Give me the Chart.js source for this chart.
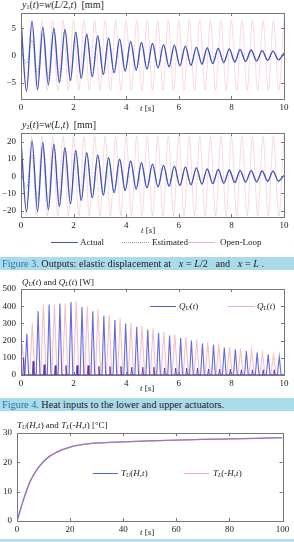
<!DOCTYPE html>
<html>
<head>
<meta charset="utf-8">
<script src="https://cdn.jsdelivr.net/npm/chart.js@4"></script>
<style>
  body { margin: 0; background: #fff; width: 294px; height: 542px; position: relative; overflow: hidden;
         font-family: 'Liberation Serif', serif; color: #222; }
  canvas { position: absolute; left: 0; }
  .lbl { position: absolute; font-size: 9px; line-height: 10px; white-space: nowrap; }
  .lbl sub { font-size: 6px; vertical-align: -1px; }
  .ttl { font-size: 10px; }
  .key { position: absolute; height: 0; }
  .cap { position: absolute; left: 0; width: 294px; height: 13px; background: #aadbea;
         font-size: 10.2px; line-height: 13px; white-space: nowrap; padding-left: 2px; box-sizing: border-box; }
  .cap b { font-weight: normal; color: #1e78b4; }
</style>
</head>
<body>

<div class="lbl ttl" style="left:22px;top:0px"><i>y</i><sub>1</sub>(<i>t</i>)=<i>w</i>(<i>L</i>/2,<i>t</i>)&nbsp; [mm]</div>
<canvas id="c1" width="294" height="112" style="top:0px"></canvas>
<div class="lbl" style="left:140px;top:103px"><i>t</i> [<i>s</i>]</div>

<div class="lbl ttl" style="left:22px;top:120px"><i>y</i><sub>2</sub>(<i>t</i>)=<i>w</i>(<i>L</i>,<i>t</i>)&nbsp; [mm]</div>
<canvas id="c2" width="294" height="112" style="top:120px"></canvas>
<div class="lbl" style="left:141px;top:225px"><i>t</i> [<i>s</i>]</div>

<div class="key" style="left:51px;top:242px;width:27px;border-top:1px solid #4455cc"></div>
<div class="lbl" style="left:80px;top:237px">Actual</div>
<div class="key" style="left:122px;top:242px;width:27px;border-top:1px dotted #7db38c"></div>
<div class="lbl" style="left:152px;top:237px">Estimated</div>
<div class="key" style="left:187px;top:242px;width:28px;border-top:1px solid #f3b0ba"></div>
<div class="lbl" style="left:220px;top:237px">Open-Loop</div>

<div class="cap" style="top:257px"><b>Figure 3.</b> Outputs: elastic displacement at &nbsp; <i>x</i> = <i>L</i>/2 &nbsp; and &nbsp; <i>x</i> = <i>L</i> .</div>

<div class="lbl" style="left:22px;top:277px"><i>Q<sub>U</sub></i>(<i>t</i>) and <i>Q<sub>L</sub></i>(<i>t</i>) [W]</div>
<canvas id="c3" width="294" height="112" style="top:276px"></canvas>
<div class="lbl" style="left:140px;top:383px"><i>t</i> [<i>s</i>]</div>
<div class="key" style="left:150px;top:306px;width:26px;border-top:1px solid #5563dd"></div>
<div class="lbl" style="left:179px;top:301px"><i>Q<sub>U</sub></i>(<i>t</i>)</div>
<div class="key" style="left:228px;top:306px;width:27px;border-top:1px solid #f3b0ba"></div>
<div class="lbl" style="left:257px;top:301px"><i>Q<sub>L</sub></i>(<i>t</i>)</div>

<div class="cap" style="top:398px"><b>Figure 4.</b> Heat inputs to the lower and upper actuators.</div>

<div class="lbl" style="left:17px;top:420px"><i>T<sub>U</sub></i>(<i>H</i>,<i>t</i>) and <i>T<sub>L</sub></i>(-<i>H</i>,<i>t</i>) [°C]</div>
<canvas id="c4" width="294" height="114" style="top:420px"></canvas>
<div class="lbl" style="left:140px;top:527px"><i>t</i> [<i>s</i>]</div>
<div class="key" style="left:93px;top:473px;width:25px;border-top:1px solid #5563dd"></div>
<div class="lbl" style="left:121px;top:468px"><i>T<sub>U</sub></i>(<i>H</i>,<i>t</i>)</div>
<div class="key" style="left:184px;top:473px;width:25px;border-top:1px solid #f3b0ba"></div>
<div class="lbl" style="left:213px;top:468px"><i>T<sub>L</sub></i>(-<i>H</i>,<i>t</i>)</div>

<div style="position:absolute;left:0;top:539px;width:294px;height:3px;background:#b6e0ee"></div>

<script>
// --- data ---
// times of the peaks / troughs of the controlled response [s]
const tPeaks = [0, 0.21, 0.42, 0.63, 0.83, 1.04, 1.25, 1.46, 1.67, 1.88, 2.08, 2.29, 2.5, 2.71, 2.92, 3.13,
  3.33, 3.54, 3.75, 3.96, 4.17, 4.38, 4.58, 4.79, 5, 5.21, 5.42, 5.63, 5.83, 6.04, 6.25, 6.46, 6.67, 6.88,
  7.08, 7.29, 7.5, 7.71, 7.92, 8.13, 8.33, 8.54, 8.75, 8.96, 9.17, 9.38, 9.58, 9.79, 10];
// times of the peaks / troughs of the open-loop response [s]
const tOpen = [0, 0.2, 0.4, 0.6, 0.8, 1, 1.2, 1.4, 1.6, 1.8, 2, 2.2, 2.4, 2.6, 2.8, 3, 3.2, 3.4, 3.6, 3.8,
  4, 4.2, 4.4, 4.6, 4.8, 5, 5.2, 5.4, 5.6, 5.8, 6, 6.2, 6.4, 6.6, 6.8, 7, 7.2, 7.4, 7.6, 7.8, 8, 8.2, 8.4,
  8.6, 8.8, 9, 9.2, 9.4, 9.6, 9.8, 10];

// y1 = w(L/2,t) [mm]
const y1Actual = [6.5, -6.6, 6.3, -6.3, 5.2, -5.4, 5.0, -5.0, 4.8, -4.6, 4.3, -4.2, 3.9, -3.9, 3.6, -3.5,
  3.2, -3.2, 3.0, -2.9, 2.6, -2.7, 2.4, -2.5, 2.2, -2.3, 2.0, -2.1, 1.9, -1.9, 1.7, -1.8, 1.5, -1.6, 1.4,
  -1.5, 1.3, -1.3, 1.2, -1.2, 1.1, -1.1, 1.0, -1.0, 0.9, -0.9, 0.8, -0.8, 0.4];
const y1Est = [0.8, -1.5, 2.8, -3.5, 4.0, -4.2, 4.6, -4.9, 4.8, -4.6, 4.3, -4.2, 3.9, -3.9, 3.6, -3.5,
  3.2, -3.2, 3.0, -2.9, 2.6, -2.7, 2.4, -2.5, 2.2, -2.3, 2.0, -2.1, 1.9, -1.9, 1.7, -1.8, 1.5, -1.6, 1.4,
  -1.5, 1.3, -1.3, 1.2, -1.2, 1.1, -1.1, 1.0, -1.0, 0.9, -0.9, 0.8, -0.8, 0.4];
const y1Open = [6.5, -6.5, 6.4, -6.4, 6.4, -6.4, 6.4, -6.4, 6.4, -6.4, 6.4, -6.4, 6.4, -6.4, 6.4, -6.4,
  6.4, -6.4, 6.4, -6.4, 6.4, -6.4, 6.4, -6.4, 6.4, -6.4, 6.4, -6.4, 6.4, -6.4, 6.4, -6.4, 6.4, -6.4, 6.4,
  -6.4, 6.4, -6.4, 6.4, -6.4, 6.4, -6.4, 6.4, -6.4, 6.4, -6.4, 6.4, -6.4, 6.4, -6.4, 6.4];

// y2 = w(L,t) [mm]
const y2Actual = [20.5, -20.5, 20.5, -20.5, 19.5, -19.5, 18.5, -17.5, 16.5, -16, 15, -14, 13.6, -12.5,
  12.2, -11, 10.8, -9.5, 9.8, -8.3, 8.8, -7.5, 7.8, -6.8, 7.0, -6.2, 6.3, -5.8, 5.8, -5.4, 5.3, -5.0, 4.8,
  -4.6, 4.3, -4.3, 4.0, -4.0, 3.6, -3.7, 3.4, -3.4, 3.2, -3.2, 3.0, -3.0, 2.9, -2.8, 0.5];
const y2Est = [3, -7, 12, -14, 17, -18, 18, -17.5, 16.5, -16, 15, -14, 13.6, -12.5,
  12.2, -11, 10.8, -9.5, 9.8, -8.3, 8.8, -7.5, 7.8, -6.8, 7.0, -6.2, 6.3, -5.8, 5.8, -5.4, 5.3, -5.0, 4.8,
  -4.6, 4.3, -4.3, 4.0, -4.0, 3.6, -3.7, 3.4, -3.4, 3.2, -3.2, 3.0, -3.0, 2.9, -2.8, 0.5];
const y2Open = [21, -22.5, 23, -23, 23, -23, 23, -23, 23, -23, 23, -23, 23, -23, 23, -23, 23, -23, 23,
  -23, 23, -23, 23, -23, 23, -23, 23, -23, 23, -23, 23, -23, 23, -23, 23, -23, 23, -23, 23, -23, 23, -23,
  23, -23, 23, -23, 23, -23, 23, -23, 23];

// heat input pulses [s] and their peaks [W]
const qUTimes = [0.22, 0.65, 1.07, 1.48, 1.9, 2.32, 2.73, 3.15, 3.57, 3.98, 4.4, 4.82, 5.23, 5.65, 6.07,
  6.48, 6.9, 7.32, 7.73, 8.15, 8.57, 8.98, 9.4, 9.82];
const qUPeaks = [240, 370, 410, 415, 425, 395, 370, 345, 320, 300, 280, 265, 245, 230, 215, 200, 185, 175,
  160, 150, 140, 130, 120, 105];
const qLTimes = [0.05, 0.43, 0.85, 1.27, 1.68, 2.1, 2.52, 2.93, 3.35, 3.77, 4.18, 4.6, 5.02, 5.43, 5.85,
  6.27, 6.68, 7.1, 7.52, 7.93, 8.35, 8.77, 9.18, 9.6];
const qLPeaks = [180, 300, 410, 410, 415, 430, 400, 380, 350, 330, 305, 285, 270, 250, 235, 220, 205, 190,
  180, 165, 155, 145, 130, 120];
// short dark spikes of Q_U sitting under the Q_L pulses
const qSmallTimes = [0.1, 0.46, 0.88, 1.3, 1.71, 2.13, 2.55, 2.96, 3.38, 3.8, 4.21, 4.63, 5.05, 5.46, 5.88,
  6.3, 6.71, 7.13, 7.55, 7.96, 8.38, 8.8, 9.21, 9.63];
const qSmallPeaks = [100, 80, 60, 55, 55, 55, 55, 50, 50, 50, 45, 45, 45, 40, 40, 40, 40, 35, 35, 35, 30,
  30, 30, 30];

// tip temperatures [°C]
const tTemp = [0, 1, 2, 3, 5, 7.5, 10, 12.5, 15, 20, 25, 30, 40, 50, 60, 70, 80, 90, 100];
const tempU = [0, 3, 6, 8.8, 13.6, 17.5, 20.3, 22.2, 23.5, 25.2, 26.1, 26.6, 27.0, 27.3, 27.55, 27.8, 28.0, 28.2, 28.4];
const tempL = [0, 3, 6, 8.8, 13.6, 17.5, 20.3, 22.2, 23.5, 25.2, 26.1, 26.6, 27.0, 27.3, 27.55, 27.8, 28.0, 28.2, 28.4];

// --- helpers ---
const pts = (xs, ys) => xs.map((x, i) => ({ x, y: ys[i] }));
const pulses = (ts, ps, w) => {
  const out = [{ x: 0, y: 0 }];
  ts.forEach((t, i) => { out.push({ x: t - w, y: 0 }, { x: t, y: ps[i] }, { x: t + w, y: 0 }); });
  out.push({ x: 10, y: 0 });
  return out.filter(p => p.x >= 0 && p.x <= 10);
};

Chart.defaults.font.family = "'Liberation Serif', serif";
Chart.defaults.font.size = 9;
Chart.defaults.color = '#222';

// matlab-like box with inward ticks
const boxTicks = {
  id: 'boxTicks',
  afterDatasetsDraw(chart) {
    const { ctx, chartArea: a, scales: { x, y } } = chart;
    ctx.save();
    ctx.strokeStyle = '#777';
    ctx.lineWidth = 1;
    ctx.strokeRect(Math.round(a.left) + 0.5, Math.round(a.top) + 0.5,
      Math.round(a.right - a.left), Math.round(a.bottom - a.top));
    ctx.beginPath();
    x.ticks.forEach(t => {
      const px = Math.round(x.getPixelForValue(t.value)) + 0.5;
      ctx.moveTo(px, a.bottom); ctx.lineTo(px, a.bottom - 3);
      ctx.moveTo(px, a.top); ctx.lineTo(px, a.top + 3);
    });
    y.ticks.forEach(t => {
      const py = Math.round(y.getPixelForValue(t.value)) + 0.5;
      ctx.moveTo(a.left, py); ctx.lineTo(a.left + 3, py);
      ctx.moveTo(a.right, py); ctx.lineTo(a.right - 3, py);
    });
    ctx.stroke();
    ctx.restore();
  }
};

function makeChart(id, datasets, o) {
  return new Chart(document.getElementById(id), {
    type: 'line',
    data: { datasets },
    options: {
      responsive: false,
      animation: false,
      layout: { padding: { top: o.top, right: o.right, left: 0, bottom: 0 } },
      plugins: { legend: { display: false }, tooltip: { enabled: false } },
      elements: { point: { radius: 0 } },
      scales: {
        x: {
          type: 'linear', min: o.xMin, max: o.xMax,
          grid: { display: false, drawTicks: false, tickLength: 0 }, border: { display: false },
          ticks: { stepSize: o.xStep, padding: 3, maxRotation: 0, includeBounds: false },
          afterFit: s => { s.height = o.xh; }
        },
        y: {
          min: o.yMin, max: o.yMax,
          grid: { display: false, drawTicks: false, tickLength: 0 }, border: { display: false },
          ticks: { stepSize: o.yStep, padding: 5, includeBounds: false,
                   callback: v => String(v).replace('-', '\u2212') },
          afterFit: s => { s.width = o.yw; }
        }
      }
    },
    plugins: [boxTicks]
  });
}

const blue = '#3f4fc6';
const pink = 'rgba(240,150,165,0.45)';
const green = '#7db38c';

function wave(actual, est, open) {
  return [
    { data: pts(tPeaks, actual), borderColor: blue, borderWidth: 1.3, cubicInterpolationMode: 'monotone' },
    { data: pts(tPeaks, est), borderColor: green, borderWidth: 1, borderDash: [1.5, 1.5], cubicInterpolationMode: 'monotone' },
    { data: pts(tOpen, open), borderColor: pink, borderWidth: 0.8, cubicInterpolationMode: 'monotone' }
  ];
}

makeChart('c1', wave(y1Actual, y1Est, y1Open),
  { top: 13, right: 10, xh: 13, yw: 21, xMin: 0, xMax: 10, xStep: 2, yMin: -8, yMax: 7.8, yStep: 5 });
makeChart('c2', wave(y2Actual, y2Est, y2Open),
  { top: 13, right: 10, xh: 15, yw: 21, xMin: 0, xMax: 10, xStep: 2, yMin: -23.6, yMax: 25, yStep: 10 });

makeChart('c3', [
  { data: pulses(qUTimes, qUPeaks, 0.07), borderColor: 'rgba(60,70,215,0.8)', borderWidth: 1.1, tension: 0 },
  { data: pulses(qSmallTimes, qSmallPeaks, 0.03), borderColor: 'rgba(90,40,170,0.85)', borderWidth: 1, tension: 0 },
  { data: pulses(qLTimes, qLPeaks, 0.1), borderColor: 'rgba(240,150,165,0.6)', borderWidth: 1.1, tension: 0 }
], { top: 13, right: 10, xh: 13, yw: 21, xMin: 0, xMax: 10, xStep: 2, yMin: 0, yMax: 500, yStep: 100 });

makeChart('c4', [
  { data: pts(tTemp, tempL), borderColor: 'rgba(240,140,155,0.55)', borderWidth: 1.3, cubicInterpolationMode: 'monotone', order: 0 },
  { data: pts(tTemp, tempU), borderColor: '#4a58d8', borderWidth: 1.3, cubicInterpolationMode: 'monotone', order: 1 }
], { top: 13, right: 11.5, xh: 13, yw: 17, xMin: 0, xMax: 100, xStep: 20, yMin: 0, yMax: 30, yStep: 10 });
</script>
</body>
</html>
